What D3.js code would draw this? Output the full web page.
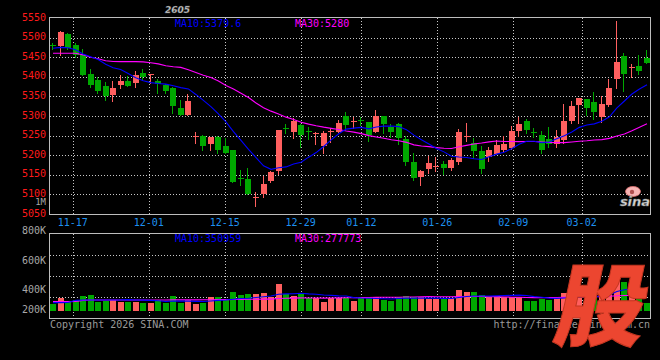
<!DOCTYPE html>
<html><head><meta charset="utf-8">
<script src="https://cdn.jsdelivr.net/npm/d3@7/dist/d3.min.js"></script>
<style>html,body{margin:0;padding:0;background:#000;}svg{display:block;}</style>
</head><body>
<svg id="chart" width="660" height="360"></svg>
<script>
// ---------------- data ----------------
const contract = "2605";
const dates = ["11-12","11-13","11-14","11-17","11-18","11-19","11-20","11-21","11-24","11-25",
"11-26","11-27","11-28","12-01","12-02","12-03","12-04","12-05","12-08","12-09",
"12-10","12-11","12-12","12-15","12-16","12-17","12-18","12-19","12-22","12-23",
"12-24","12-25","12-26","12-29","12-30","12-31","01-05","01-06","01-07","01-08",
"01-09","01-12","01-13","01-14","01-15","01-16","01-19","01-20","01-21","01-22",
"01-23","01-26","01-27","01-28","01-29","01-30","02-02","02-03","02-04","02-05",
"02-06","02-09","02-10","02-11","02-12","02-13","02-24","02-25","02-26","02-27",
"03-02","03-03","03-04","03-05","03-06","03-09","03-10","03-11","03-12","03-13"];
const open  = [5481,5478,5510,5481,5456,5407,5392,5377,5354,5379,5389,5383,5409,5406,5389,5378,5372,5320,5303,5247,
5250,5229,5246,5224,5212,5141,5139,5092,5101,5133,5159,5269,5260,5277,5261,5255,5224,5260,5260,5299,
5287,5289,5284,5259,5299,5273,5280,5241,5183,5145,5165,5171,5178,5167,5183,5247,5230,5210,5196,5203,
5213,5218,5263,5287,5259,5252,5241,5228,5240,5287,5329,5343,5336,5298,5328,5395,5453,5423,5428,5449];
const high  = [5486,5518,5511,5487,5472,5421,5399,5387,5389,5404,5402,5415,5420,5408,5394,5382,5375,5342,5356,5258,
5251,5247,5250,5243,5214,5162,5167,5105,5148,5159,5265,5280,5294,5280,5271,5258,5263,5269,5290,5310,
5298,5298,5285,5315,5300,5280,5281,5250,5205,5162,5199,5195,5186,5193,5267,5282,5244,5223,5220,5239,
5250,5275,5297,5292,5270,5262,5272,5264,5331,5338,5347,5344,5360,5350,5394,5542,5460,5433,5456,5468];
const low   = [5471,5456,5470,5450,5404,5373,5359,5341,5337,5372,5376,5374,5392,5385,5359,5359,5308,5302,5302,5232,
5214,5214,5206,5205,5131,5125,5100,5071,5094,5132,5152,5256,5244,5220,5241,5229,5205,5233,5258,5267,
5269,5277,5237,5258,5257,5246,5229,5176,5137,5125,5154,5160,5152,5161,5177,5235,5193,5155,5184,5202,
5210,5216,5250,5257,5246,5206,5222,5222,5231,5283,5283,5303,5292,5285,5326,5372,5365,5399,5407,5434];
const close = [5478,5514,5473,5456,5405,5380,5365,5352,5371,5390,5377,5405,5399,5407,5382,5364,5326,5303,5338,5249,
5224,5246,5213,5206,5132,5139,5101,5093,5127,5158,5264,5268,5288,5252,5260,5256,5257,5261,5282,5278,
5288,5287,5252,5300,5280,5258,5244,5183,5142,5160,5179,5172,5167,5188,5260,5248,5210,5165,5212,5226,
5229,5262,5280,5265,5257,5212,5229,5247,5287,5325,5346,5321,5310,5331,5371,5438,5407,5424,5416,5435];
const ma10 = [5473,5475,5474,5469,5458,5451,5444,5432,5423,5418.4,5408.3,5397.4,5390.0,5385.1,5382.8,5381.2,5377.3,5372.4,5369.1,5355.0,
5339.7,5323.8,5305.2,5285.1,5260.1,5237.6,5215.1,5194.1,5173.0,5163.9,5167.9,5170.1,5177.6,5182.2,5195.0,5206.7,5222.3,5239.1,5254.6,5266.6,
5269.0,5270.9,5267.3,5272.1,5274.1,5274.3,5273.0,5265.2,5251.2,5239.4,5228.5,5217.0,5208.5,5197.3,5195.3,5194.3,5190.9,5189.1,5196.1,5202.7,
5207.7,5216.7,5228.0,5235.7,5235.4,5231.8,5233.7,5241.9,5249.4,5259.3,5271.0,5276.9,5279.9,5286.5,5297.9,5320.5,5338.3,5356.0,5368.9,5379.6];
const ma30 = [5460,5460,5460,5460,5456,5450,5446,5441,5439,5438.6,5438.6,5438.6,5438,5436,5433,5428,5425.5,5424,5418,5411,
5404,5398,5389,5378,5369,5358,5347,5333,5321,5312.4,5305.3,5297.1,5290.9,5284.1,5279.3,5275.2,5271.6,5268.5,5265.6,5261.8,
5258.9,5255.0,5250.0,5246.5,5243.1,5239.5,5236.8,5232.8,5226.3,5223.3,5221.8,5219.3,5217.8,5217.2,5221.5,5225.1,5228.7,5231.1,5234.0,5236.2,
5235.1,5234.9,5234.6,5235.0,5234.9,5233.5,5232.5,5232.1,5232.2,5233.8,5235.7,5236.9,5238.8,5239.8,5242.9,5248.9,5254.3,5262.3,5271.5,5280.0];
const volume = [153000,239000,182000,210000,272000,282000,186000,196000,210000,186000,186000,186000,172000,172000,210000,172000,272000,172000,210000,153000,
172000,253000,253000,225000,325000,282000,296000,296000,311000,253000,440000,296000,268000,296000,239000,239000,182000,239000,239000,239000,
200000,239000,249000,249000,210000,200000,249000,272000,249000,249000,220000,220000,220000,235000,354000,325000,325000,282000,249000,268000,
258000,249000,249000,192000,192000,225000,210000,239000,306000,311000,325000,282000,311000,282000,348000,700000,470000,311000,321000,160000];
const volMa10 = [172000,172000,175000,205000,210000,210000,210000,211000,211000,211600,214900,209600,208600,204800,198600,187600,196200,193800,193800,190500,
189100,195800,203900,209200,220700,231700,234100,246500,256600,266600,293400,297700,299200,306300,297700,293400,282000,276300,269100,267700,
243700,238000,236100,231400,228500,224600,231300,234600,235600,236600,238600,236700,233800,232400,246800,259300,266900,267900,267900,269800,
273600,276500,279400,275100,258900,248900,237400,233100,238800,243100,249800,253100,259300,268300,283900,331400,357400,364600,366100,350959];
const volMa30 = [186000,186000,186000,190000,205000,210000,210000,210000,210000,210000,210000,210000,210000,210000,210000,210000,212000,212000,212000,212000,
213000,214000,215000,216000,218000,219000,220000,221000,222000,222900,232500,234400,237200,240100,239000,237600,237400,238900,239800,241600,
242100,243800,246400,249000,249000,249900,249100,252500,253800,257000,258600,257500,256400,256700,257700,259100,260100,259600,257500,258000,
252000,250400,249800,246300,244700,244300,245200,245200,247400,249800,254000,255400,257500,258600,263200,271900,275200,276500,278200,277773];
const priceTicks = [5550,5500,5450,5400,5350,5300,5250,5200,5150,5100,5050];
const dateTicks = ["11-17","12-01","12-15","12-29","01-12","01-26","02-09","03-02"];
const volTicks = [800000,600000,400000,200000];
const volTickText = ["800K","600K","400K","200K"];
const priceMaText = ["MA10:5379.6","MA30:5280"];
const volMaText = ["MA10:350959","MA30:277773"];
const copyright = "Copyright 2026 SINA.COM";
const siteUrl = "http://finance.sina.com.cn";

// ---------------- layout ----------------
const W = 660, H = 360;
const L = 50, R = 650;
const mainTop = 18, mainBot = 214;
const volTop = 234, volBot = 317.5, volBase = 311;
const RED = "#ff5f5f", GREEN = "#00a800", BLUE = "#0000ff", MAG = "#ff00ff";
const GRID = "#c8c8c8", BORDER = "#bdbdbd", FONT = "'DejaVu Sans Mono', monospace";

const svg = d3.select("#chart");
svg.append("rect").attr("width", W).attr("height", H).attr("fill", "#000");

const x = d3.scaleBand().domain(dates).range([L, R]).paddingInner(0.2);
const xg = d3.scalePoint().domain(dates).range([L, R]);
const y = d3.scaleLinear().domain([5050, 5550]).range([mainBot, mainTop]);
const yv = d3.scaleLinear().domain([52000, 800000]).range([volBase, 258.9]);
const yvLabel = d3.scaleLinear().domain(volTicks).range([230.7, 260.8, 290, 310]);
const cx = d => Math.round(x(d) + x.bandwidth() / 2) - 0.5;
const up = i => close[i] >= open[i];

// ---------- header ----------
svg.append("text").attr("x", 165).attr("y", 13).attr("fill", "#cfcfcf")
  .attr("font-family", "'DejaVu Sans', sans-serif").attr("font-size", 9).attr("font-weight", "bold")
  .attr("font-style", "italic").attr("stroke", "#555").attr("stroke-width", 0.4).text(contract);

// ---------- grids ----------
function hDotted(g, yy) {
  g.append("line").attr("x1", L).attr("x2", R).attr("y1", yy).attr("y2", yy)
    .attr("stroke", GRID).attr("stroke-width", 1).attr("stroke-dasharray", "1,2");
}
const gMainGrid = svg.append("g").attr("shape-rendering", "crispEdges");
priceTicks.slice(1, -1).forEach(p => hDotted(gMainGrid, Math.round(y(p)) + 0.5));
dateTicks.forEach(d => {
  const xx = Math.round(xg(d)) + 0.5;
  gMainGrid.append("line").attr("x1", xx).attr("x2", xx).attr("y1", mainTop).attr("y2", mainBot)
    .attr("stroke", GRID).attr("stroke-dasharray", "1,2");
  gMainGrid.append("line").attr("x1", xx).attr("x2", xx).attr("y1", volTop).attr("y2", 321)
    .attr("stroke", GRID).attr("stroke-dasharray", "1,2");
});
const volGridStep = (volBot - volTop) / 4;
[1, 2, 3].forEach(k => hDotted(gMainGrid, Math.round(volTop + k * volGridStep) + 0.5));

// ---------- axis labels ----------
const gAx = svg.append("g").attr("font-family", FONT).attr("font-size", 10);
priceTicks.forEach(p => {
  gAx.append("text").attr("x", 46).attr("y", y(p) + 2.5).attr("text-anchor", "end")
    .attr("fill", "#ff1a1a").text(p);
});
gAx.append("text").attr("x", 46).attr("y", 204.5).attr("text-anchor", "end").attr("font-size", 9)
  .attr("fill", "#a8a8a8").text("1M");
dateTicks.forEach(d => {
  gAx.append("text").attr("x", xg(d)).attr("y", 225.5).attr("text-anchor", "middle")
    .attr("fill", "#1e90f0").text(d);
});
volTicks.forEach((v, k) => {
  gAx.append("text").attr("x", 46).attr("y", yvLabel(v) + 3.3).attr("text-anchor", "end")
    .attr("fill", "#a8a8a8").text(volTickText[k]);
});

// ---------- candles ----------
const gC = svg.append("g").attr("shape-rendering", "crispEdges");
dates.forEach((d, i) => {
  const col = up(i) ? RED : GREEN;
  const xx = cx(d);
  gC.append("line").attr("x1", xx).attr("x2", xx)
    .attr("y1", Math.round(y(high[i]))).attr("y2", Math.round(y(low[i])) + 1)
    .attr("stroke", col).attr("stroke-width", 1);
  const yTop = Math.round(y(Math.max(open[i], close[i])));
  const yBot = Math.round(y(Math.min(open[i], close[i])));
  gC.append("rect").attr("x", Math.round(x(d))).attr("width", Math.round(x.bandwidth()))
    .attr("y", yTop).attr("height", Math.max(1, yBot - yTop)).attr("fill", col);
});

// ---------- MA lines ----------
const lineP = arr => d3.line().x((d, i) => x(dates[i]) + x.bandwidth() / 2).y(d => y(d))(arr);
svg.append("path").attr("d", lineP(ma30)).attr("fill", "none").attr("stroke", MAG).attr("stroke-width", 1.1);
svg.append("path").attr("d", lineP(ma10)).attr("fill", "none").attr("stroke", BLUE).attr("stroke-width", 1.1);

// ---------- volume bars ----------
const gV = svg.append("g").attr("shape-rendering", "crispEdges");
dates.forEach((d, i) => {
  const yt = Math.round(yv(volume[i]));
  gV.append("rect").attr("x", Math.round(x(d))).attr("width", Math.round(x.bandwidth()))
    .attr("y", yt).attr("height", Math.max(1, volBase - yt)).attr("fill", up(i) ? RED : GREEN);
});
const lineV = arr => d3.line().x((d, i) => x(dates[i]) + x.bandwidth() / 2).y(d => yv(d))(arr);
svg.append("path").attr("d", lineV(volMa30)).attr("fill", "none").attr("stroke", MAG).attr("stroke-width", 1.1);
svg.append("path").attr("d", lineV(volMa10)).attr("fill", "none").attr("stroke", BLUE).attr("stroke-width", 1.1);

// ---------- borders ----------
const gB = svg.append("g").attr("shape-rendering", "crispEdges").attr("fill", "none").attr("stroke", BORDER);
gB.append("rect").attr("x", L - 0.5).attr("y", mainTop - 0.5).attr("width", R - L + 1).attr("height", mainBot - mainTop + 1);
gB.append("rect").attr("x", L - 0.5).attr("y", volTop - 0.5).attr("width", R - L + 1).attr("height", volBot - volTop + 1);

// ---------- MA labels & footer ----------
const gT = svg.append("g").attr("font-family", FONT).attr("font-size", 10);
gT.append("text").attr("x", 175).attr("y", 27.3).attr("fill", BLUE).text(priceMaText[0]);
gT.append("text").attr("x", 295).attr("y", 27.3).attr("fill", MAG).text(priceMaText[1]);
gT.append("text").attr("x", 175).attr("y", 241.7).attr("fill", BLUE).text(volMaText[0]);
gT.append("text").attr("x", 295).attr("y", 241.7).attr("fill", MAG).text(volMaText[1]);
gT.append("text").attr("x", 50).attr("y", 327.5).attr("fill", "#9a9a9a").text(copyright);
gT.append("text").attr("x", 650).attr("y", 327.5).attr("text-anchor", "end").attr("fill", "#9a9a9a").text(siteUrl);

// ---------- sina logo ----------
const gl = svg.append("g");
gl.append("ellipse").attr("cx", 633).attr("cy", 191.5).attr("rx", 7.5).attr("ry", 5).attr("fill", "#f7b4b4").attr("stroke", "#e07070").attr("stroke-width", 0.8);
gl.append("circle").attr("cx", 632).attr("cy", 192).attr("r", 2.2).attr("fill", "#b05050");
gl.append("text").attr("x", 635).attr("y", 206).attr("text-anchor", "middle")
  .attr("font-family", "'DejaVu Sans', sans-serif").attr("font-size", 13).attr("font-weight", "bold")
  .attr("font-style", "italic").attr("fill", "#d8d8d8").attr("stroke", "#777").attr("stroke-width", 0.5).text("sina");

// ---------- watermark ----------
svg.append("text").attr("x", 0).attr("y", 0)
  .attr("transform", "translate(596,339) skewX(-12)")
  .attr("text-anchor", "middle").attr("font-family", "'Noto Sans CJK SC', sans-serif")
  .attr("font-size", 90).attr("font-weight", 900).attr("fill", "#ec4630")
  .attr("stroke", "#c23520").attr("stroke-width", 1).text("股");
</script>
</body></html>
